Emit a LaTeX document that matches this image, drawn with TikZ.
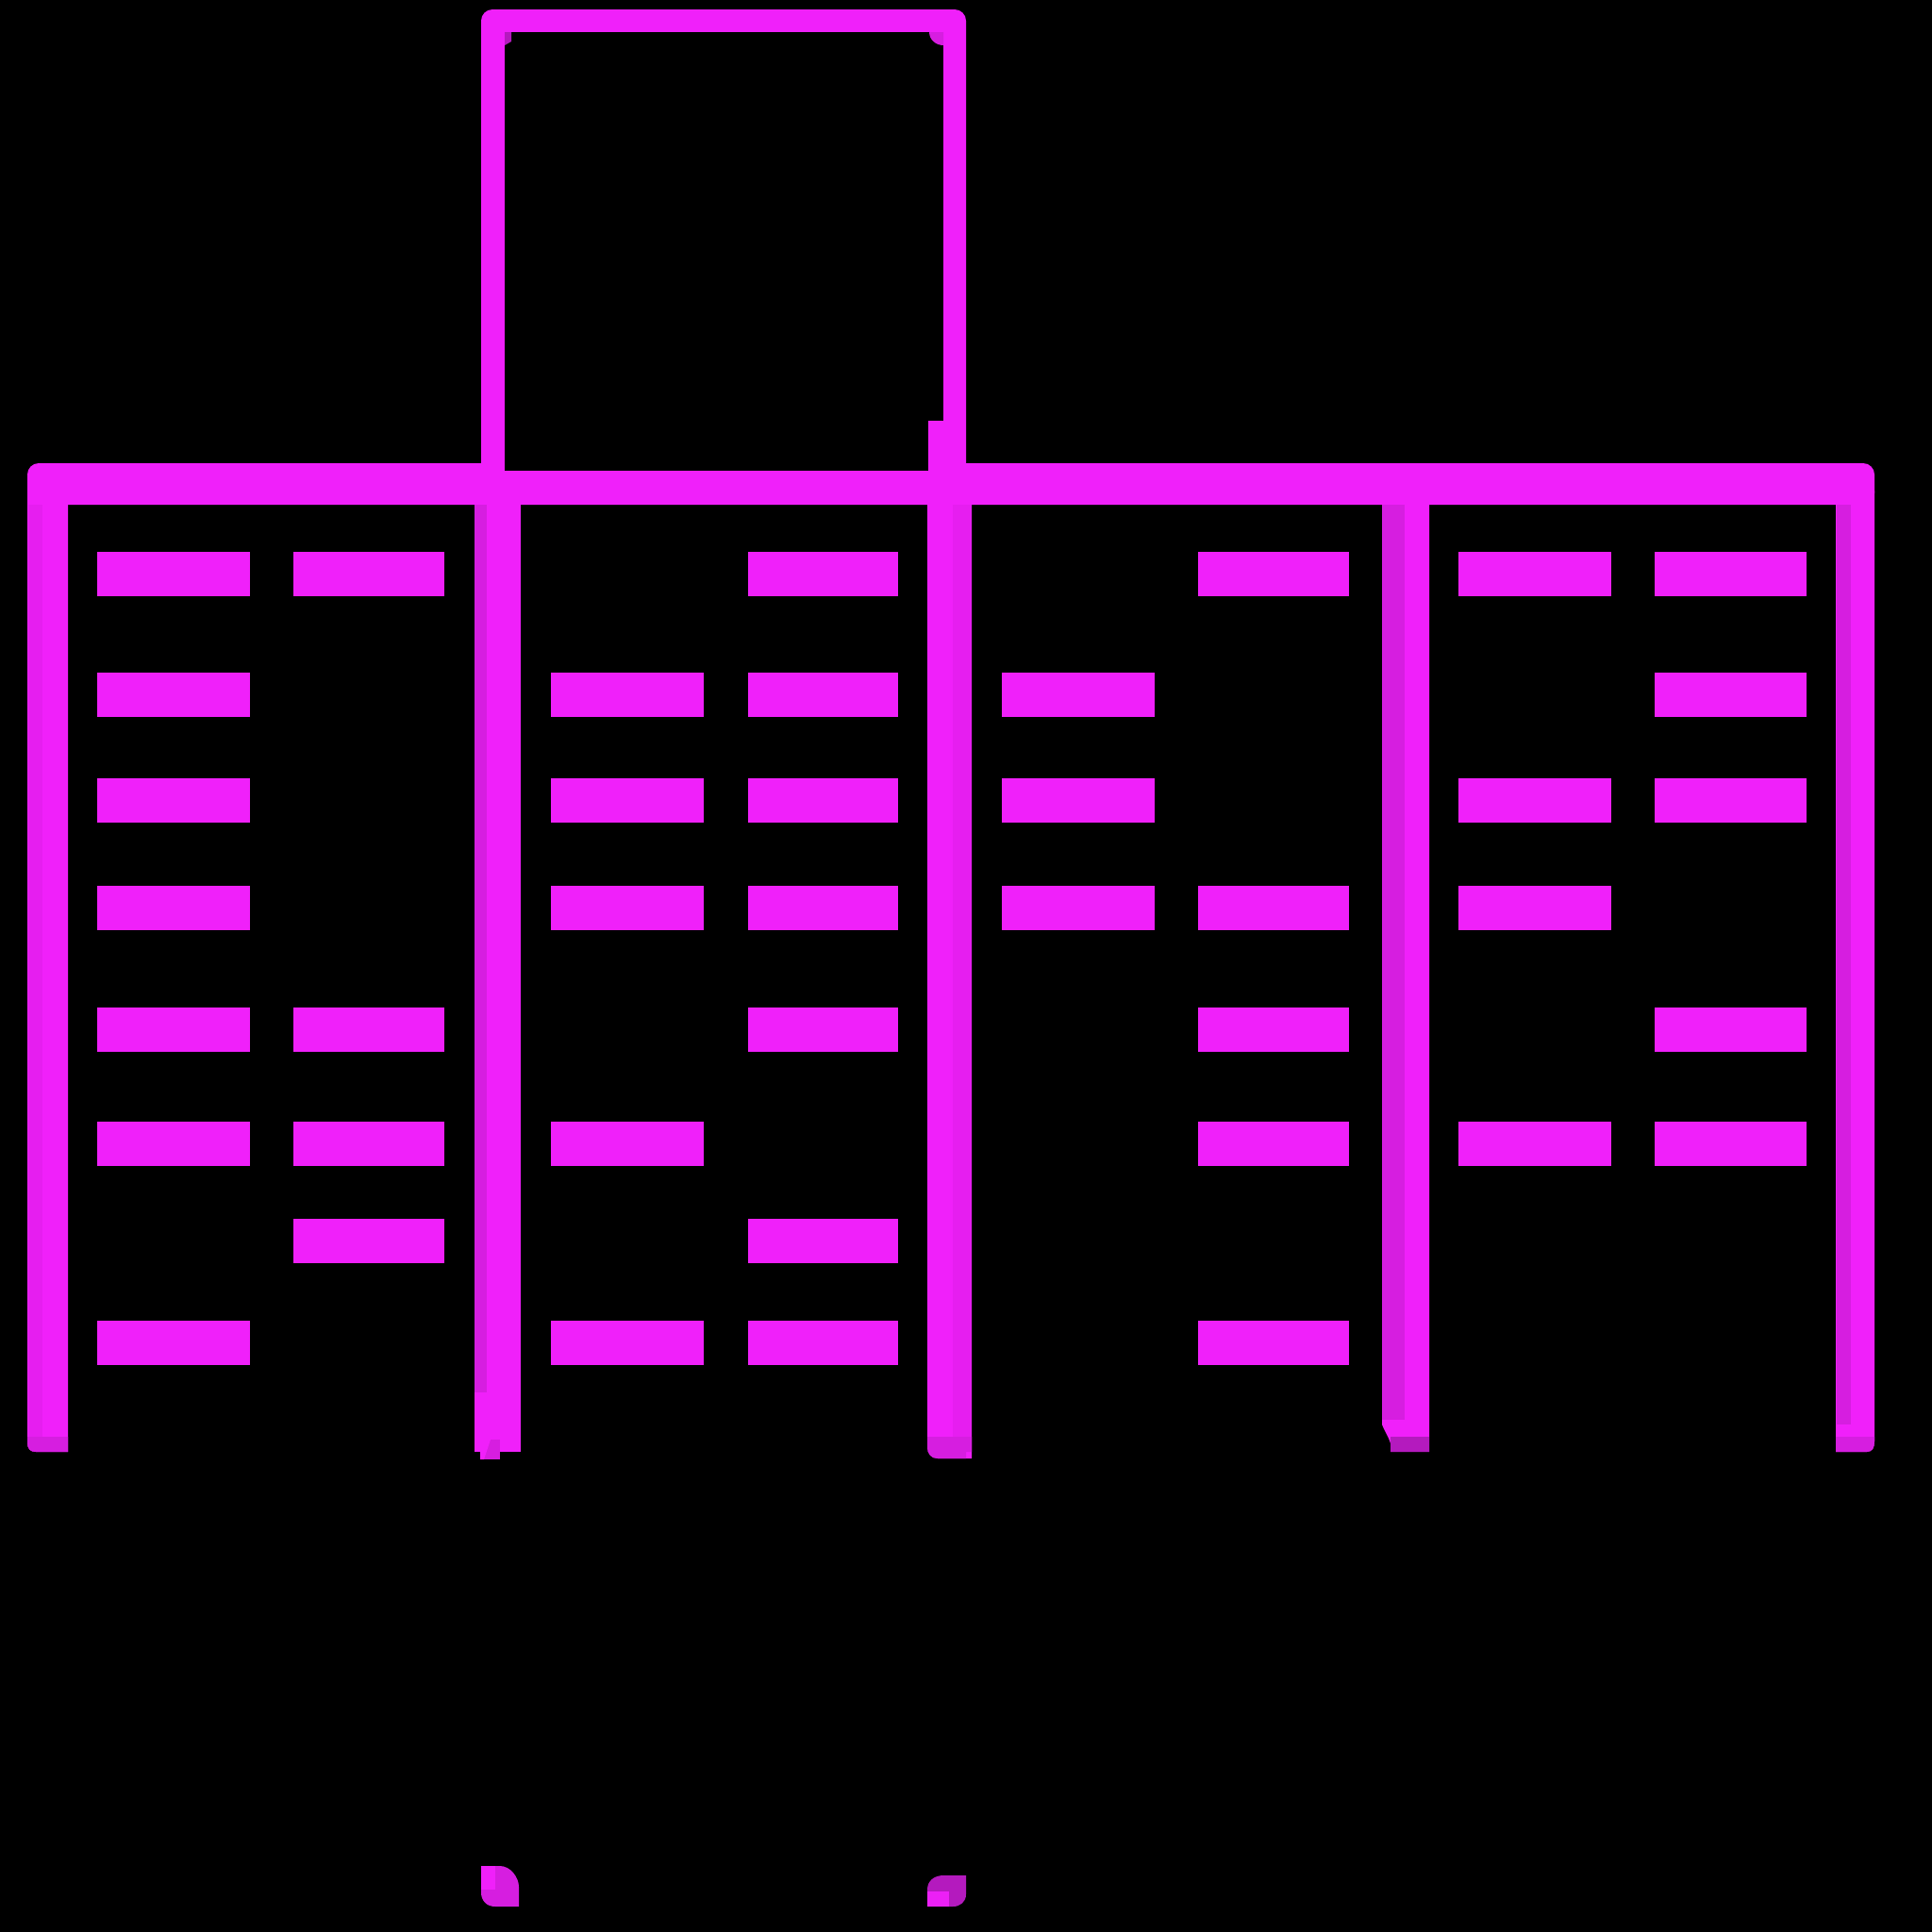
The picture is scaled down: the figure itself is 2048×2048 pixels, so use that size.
\documentclass[tikz,border=0pt]{standalone}
\definecolor{mag}{RGB}{240,32,250}
\definecolor{magl}{RGB}{230,30,240}
\definecolor{magd}{RGB}{214,30,224}
\definecolor{magdd}{RGB}{180,26,190}
\tikzset{
  barfill/.style={fill=mag},
  postfill/.style={fill=mag},
}
\begin{document}
\begin{tikzpicture}[x=0.01cm,y=-0.01cm]
\fill[black] (0,0) rectangle (2048,2048);
\useasboundingbox (0,0) rectangle (2048,2048);
% main top bar
\fill[mag, rounded corners=0.12cm] (29,491) rectangle (1987,535);
% posts
\fill[postfill] (29,520) -- (29,1529) .. controls (29,1536) and (32,1539) .. (38,1539) -- (72,1539) -- (72,520) -- cycle;
\fill[postfill] (503,520) rectangle (552,1539);
\fill[postfill] (983,520) -- (983,1534) .. controls (983,1541) and (987,1546) .. (994,1546) -- (1030,1546) -- (1030,520) -- cycle;
\fill[postfill] (1465,520) -- (1465,1510) .. controls (1467,1516) and (1472,1523) .. (1474,1530) -- (1474,1539) -- (1515,1539) -- (1515,520) -- cycle;
\fill[postfill] (1946,520) -- (1946,1539) -- (1979,1539) .. controls (1985,1539) and (1987,1534) .. (1987,1528) -- (1987,520) -- cycle;
% post shading strips
\fill[magl] (30,535) rectangle (45,1523);
\fill[magd] (503,535) rectangle (516,1476);
\fill[magl] (1010,535) rectangle (1030,1523);
\fill[magd] (1465,535) rectangle (1489,1505);
\fill[magd] (1947,535) rectangle (1962,1510);
% post bottom caps
\fill[magd] (29,1523) -- (29,1529) .. controls (29,1536) and (32,1539) .. (38,1539) -- (72,1539) -- (72,1523) -- cycle;
\fill[magdd] (1474,1523) rectangle (1515,1539);
\fill[magd] (1946,1523) -- (1946,1539) -- (1979,1539) .. controls (1985,1539) and (1987,1534) .. (1987,1528) -- (1987,1523) -- cycle;
\fill[magd] (983,1523) -- (983,1534) .. controls (983,1541) and (987,1546) .. (994,1546) -- (1024,1546) -- (1024,1539) -- (1030,1539) -- (1030,1523) -- cycle;
% P2 lower notch
\fill[mag] (503,1476) rectangle (552,1526);
\fill[magd] (509,1526) rectangle (530,1547);
\fill[mag] (509,1526) -- (520,1526) -- (513,1547) -- (509,1547) -- cycle;
% top box
\fill[mag, rounded corners=0.12cm] (510,10) rectangle (1024,520);
\fill[black] (535,34) rectangle (1000,499);
\fill[magdd] (535,34) -- (542,34) -- (542,44) -- (535,48) -- cycle;
\fill[magd] (985,34) .. controls (985,42) and (992,48) .. (1000,48) -- (1000,34) -- cycle;
\fill[mag] (984,446) rectangle (1000,499);
% bars
\foreach \xa/\xb/\ya/\yb in {
  103/265/585/632, 311/471/585/632, 793/952/585/632, 1270/1430/585/632, 1546/1708/585/632, 1754/1915/585/632,
  103/265/713/760, 584/746/713/760, 793/952/713/760, 1062/1224/713/760, 1754/1915/713/760,
  103/265/825/872, 584/746/825/872, 793/952/825/872, 1062/1224/825/872, 1546/1708/825/872, 1754/1915/825/872,
  103/265/939/986, 584/746/939/986, 793/952/939/986, 1062/1224/939/986, 1270/1430/939/986, 1546/1708/939/986,
  103/265/1068/1115, 311/471/1068/1115, 793/952/1068/1115, 1270/1430/1068/1115, 1754/1915/1068/1115,
  103/265/1189/1236, 311/471/1189/1236, 584/746/1189/1236, 1270/1430/1189/1236, 1546/1708/1189/1236, 1754/1915/1189/1236,
  311/471/1292/1339, 793/952/1292/1339,
  103/265/1400/1447, 584/746/1400/1447, 793/952/1400/1447, 1270/1430/1400/1447}
  \fill[barfill] (\xa,\ya) rectangle (\xb,\yb);
% bottom bits
\fill[magd] (510,1978) -- (530,1978) .. controls (541,1978) and (550,1990) .. (550,2000) -- (550,2021) -- (525,2021) .. controls (516,2021) and (510,2015) .. (510,2006) -- cycle;
\fill[mag] (510,1978) rectangle (525,2003);
\fill[magdd] (983,2021) -- (983,2003) .. controls (983,1994) and (990,1988) .. (1000,1988) -- (1024,1988) -- (1024,2008) .. controls (1024,2016) and (1018,2021) .. (1010,2021) -- cycle;
\fill[mag!85!magd] (983,2005) rectangle (1006,2021);
\end{tikzpicture}
\end{document}
